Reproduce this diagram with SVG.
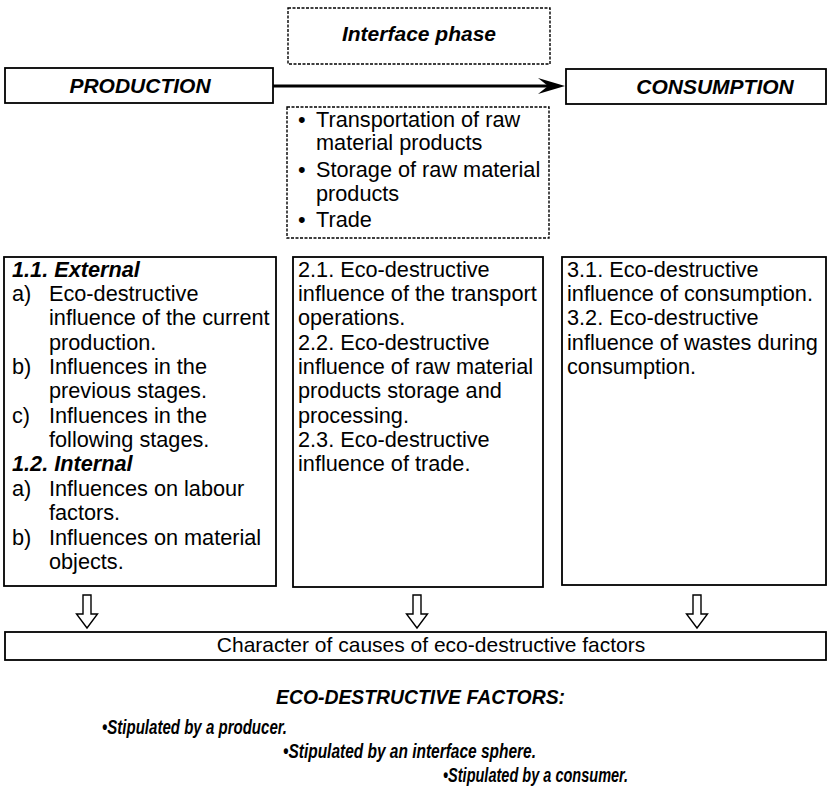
<svg xmlns="http://www.w3.org/2000/svg" width="828" height="791" viewBox="0 0 828 791">
<style>
.box{fill:#fff;stroke:#000;stroke-width:1.8}
.dash{fill:#fff;stroke:#000;stroke-width:1.4;stroke-dasharray:3 1.5}
.t{font-family:"Liberation Sans",Arial,sans-serif;font-size:21.7px;fill:#000}
.c{font-family:"Liberation Sans",Arial,sans-serif;font-size:21px;fill:#000}
.h{font-family:"Liberation Sans",Arial,sans-serif;font-size:21px;font-weight:bold;font-style:italic;fill:#000}
.f{font-family:"Liberation Sans",Arial,sans-serif;font-size:20.5px;font-weight:bold;font-style:italic;fill:#000}
.bi{font-weight:bold;font-style:italic}
.darr{fill:#fff;stroke:#000;stroke-width:1.4;stroke-linejoin:miter}
</style>
<rect width="828" height="791" fill="#fff"/>
<g id="interface-phase">
<rect class="dash" x="288" y="8" width="262" height="56"/>
<text class="h" x="419" y="41" text-anchor="middle" font-size="20.5">Interface phase</text>
</g>
<g id="production">
<rect class="box" x="5" y="68" width="268" height="35"/>
<text class="h" x="140" y="93" text-anchor="middle" font-size="21.5">PRODUCTION</text>
</g>
<g id="consumption">
<rect class="box" x="566" y="69" width="260" height="35"/>
<text class="h" x="715" y="94" text-anchor="middle" font-size="21.5">CONSUMPTION</text>
</g>
<g id="interface-list">
<rect class="dash" x="287" y="107" width="262" height="131"/>
<text class="t">
<tspan x="298" y="127">•</tspan><tspan x="316" y="127">Transportation of raw</tspan>
<tspan x="316" y="150">material products</tspan>
<tspan x="298" y="177">•</tspan><tspan x="316" y="177">Storage of raw material</tspan>
<tspan x="316" y="201">products</tspan>
<tspan x="298" y="227">•</tspan><tspan x="316" y="227">Trade</tspan>
</text>
</g>
<g id="col-production">
<rect class="box" x="4" y="257" width="272" height="329"/>
<text class="t">
<tspan x="12" y="277" class="bi">1.1. External</tspan>
<tspan x="12" y="301">a)</tspan><tspan x="49" y="301">Eco-destructive</tspan>
<tspan x="49" y="325">influence of the current</tspan>
<tspan x="49" y="350">production.</tspan>
<tspan x="12" y="374">b)</tspan><tspan x="49" y="374">Influences in the</tspan>
<tspan x="49" y="398">previous stages.</tspan>
<tspan x="12" y="423">c)</tspan><tspan x="49" y="423">Influences in the</tspan>
<tspan x="49" y="447">following stages.</tspan>
<tspan x="12" y="471" class="bi">1.2. Internal</tspan>
<tspan x="12" y="496">a)</tspan><tspan x="49" y="496">Influences on labour</tspan>
<tspan x="49" y="520">factors.</tspan>
<tspan x="12" y="545">b)</tspan><tspan x="49" y="545">Influences on material</tspan>
<tspan x="49" y="569">objects.</tspan>
</text>
</g>
<g id="col-interface">
<rect class="box" x="293" y="257" width="250" height="330"/>
<text class="t">
<tspan x="298" y="277">2.1. Eco-destructive</tspan>
<tspan x="298" y="301">influence of the transport</tspan>
<tspan x="298" y="325">operations.</tspan>
<tspan x="298" y="350">2.2. Eco-destructive</tspan>
<tspan x="298" y="374">influence of raw material</tspan>
<tspan x="298" y="398">products storage and</tspan>
<tspan x="298" y="423">processing.</tspan>
<tspan x="298" y="447">2.3. Eco-destructive</tspan>
<tspan x="298" y="471">influence of trade.</tspan>
</text>
</g>
<g id="col-consumption">
<rect class="box" x="562" y="257" width="264" height="328"/>
<text class="t">
<tspan x="567" y="277">3.1. Eco-destructive</tspan>
<tspan x="567" y="301">influence of consumption.</tspan>
<tspan x="567" y="325">3.2. Eco-destructive</tspan>
<tspan x="567" y="350">influence of wastes during</tspan>
<tspan x="567" y="374">consumption.</tspan>
</text>
</g>
<g id="causes">
<rect class="box" x="5" y="632" width="821" height="28"/>
<text class="c" x="431" y="652" text-anchor="middle">Character of causes of eco-destructive factors</text>
</g>
<g id="factors">
<text class="f" x="276" y="704" textLength="289" lengthAdjust="spacingAndGlyphs">ECO-DESTRUCTIVE FACTORS:</text>
<text class="f" x="102" y="734" textLength="185" lengthAdjust="spacingAndGlyphs">•Stipulated by a producer.</text>
<text class="f" x="283" y="758" textLength="253" lengthAdjust="spacingAndGlyphs">•Stipulated by an interface sphere.</text>
<text class="f" x="443" y="782" textLength="185" lengthAdjust="spacingAndGlyphs">•Stipulated by a consumer.</text>
</g>
<g id="connectors">
<line x1="273" y1="86" x2="550" y2="86" stroke="#000" stroke-width="3"/>
<path d="M565,86 L538,78 L548,86 L538,94 Z" fill="#000"/>
<path class="darr" d="M83,595 H91 V614 H97.5 L87,628 L76.5,614 H83 Z"/>
<path class="darr" d="M413,595 H421 V614 H427.5 L417,628 L406.5,614 H413 Z"/>
<path class="darr" d="M693,595 H701 V614 H707.5 L697,628 L686.5,614 H693 Z"/>
</g>
</svg>
